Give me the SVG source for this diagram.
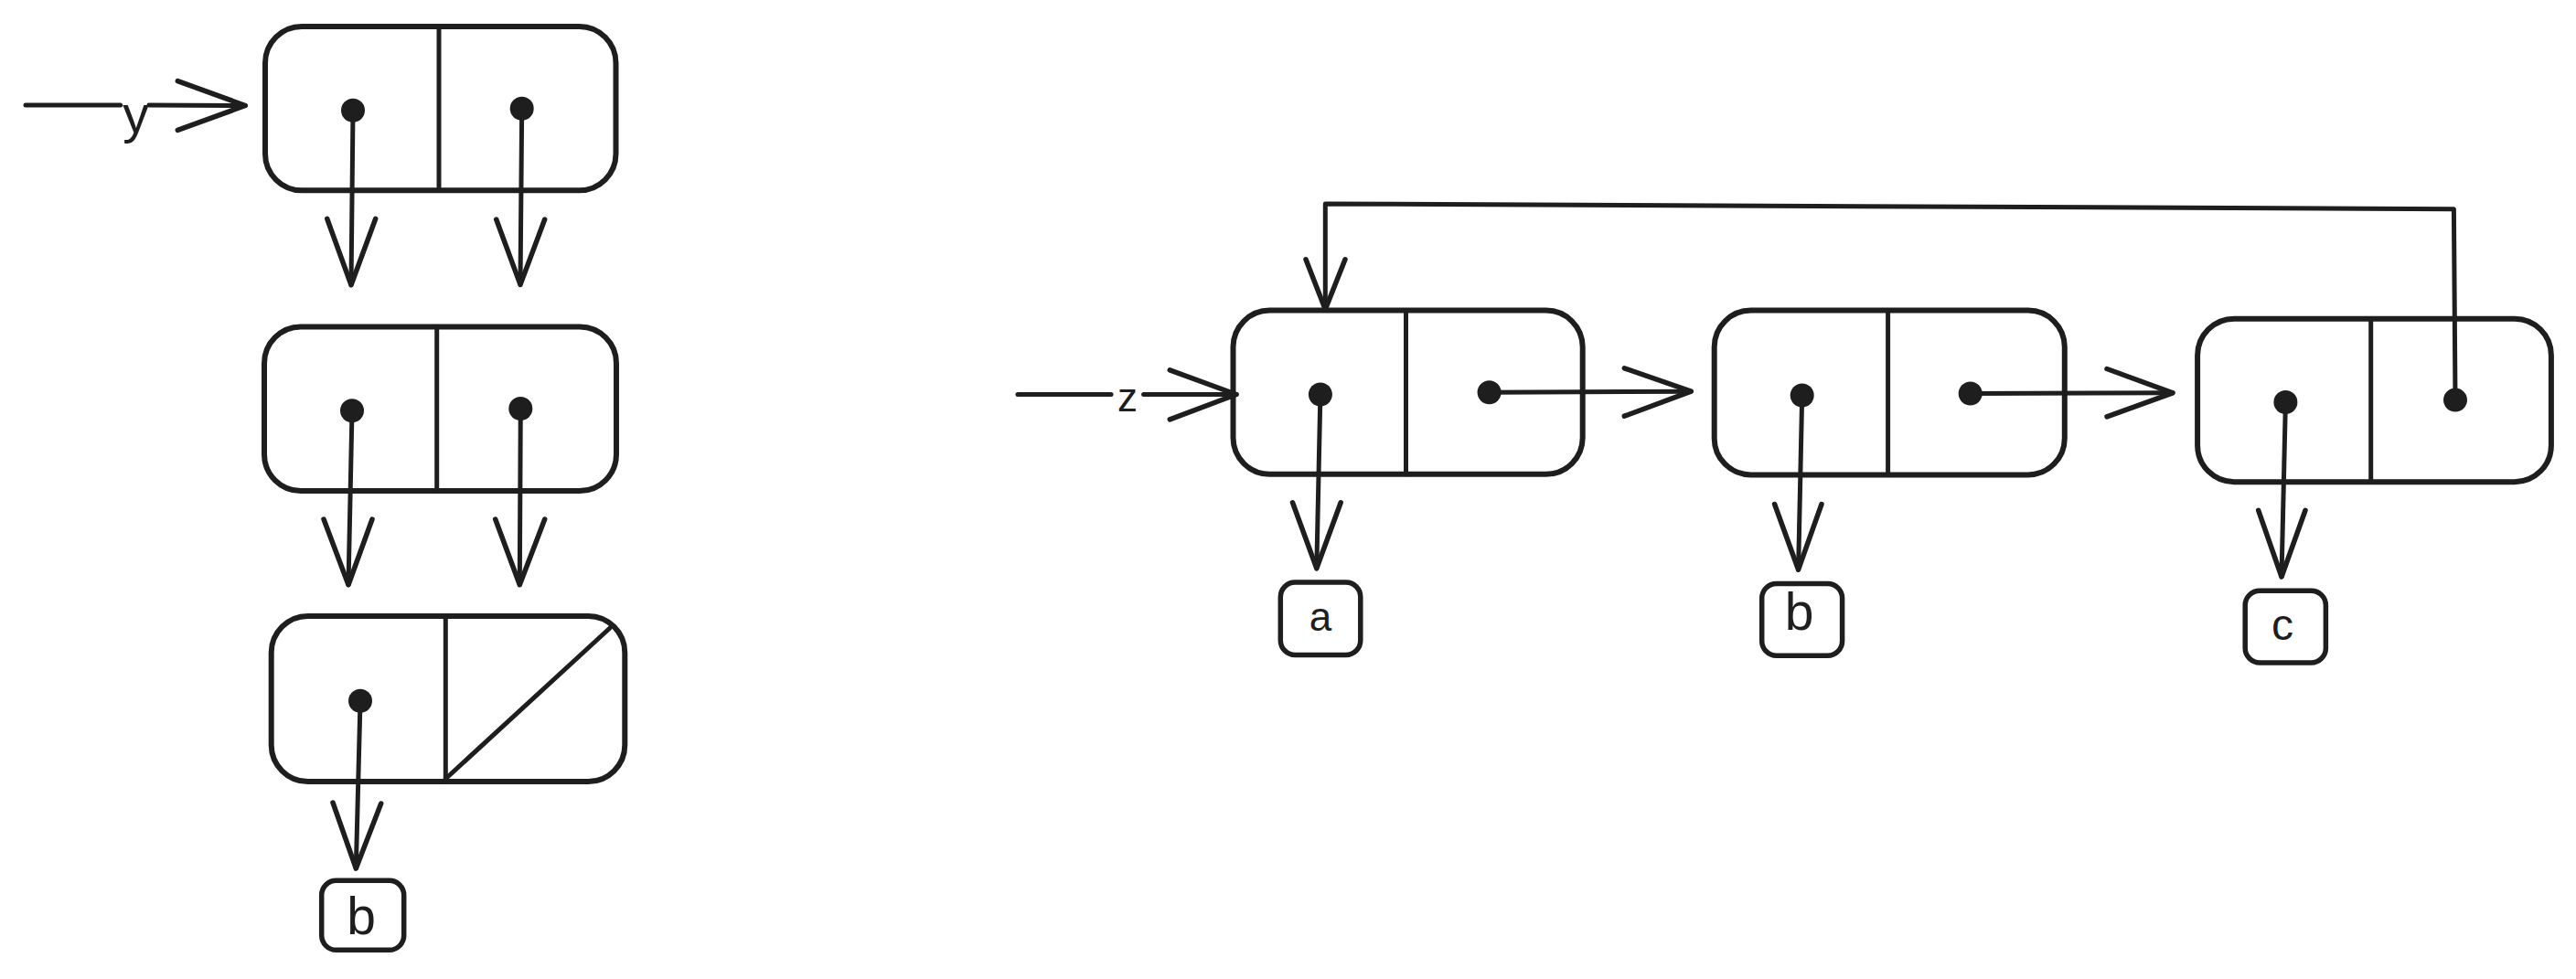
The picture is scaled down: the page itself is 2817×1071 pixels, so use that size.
<svg xmlns="http://www.w3.org/2000/svg" width="2817" height="1071" viewBox="0 0 2817 1071">
  <style>
    .cell { fill: #ffffff; stroke: #1e1e1e; stroke-width: 6; }
    .val { fill: #ffffff; stroke: #1e1e1e; stroke-width: 5.5; }
    .div { stroke: #1e1e1e; stroke-width: 5; stroke-linecap: round; fill: none; }
    .dot { fill: #1e1e1e; }
    .wire { stroke: #1e1e1e; stroke-width: 5; fill: none; stroke-linecap: round; stroke-linejoin: round; }
    .head { stroke: #1e1e1e; stroke-width: 5.5; fill: none; stroke-linecap: round; stroke-linejoin: round; }
    .lbl { font-family: "Liberation Sans", "DejaVu Sans", sans-serif; fill: #1e1e1e; text-anchor: middle; }
    .big { font-size: 57px; }
    .mid { font-size: 48px; }
    .small { font-size: 44px; }
  </style>

  <rect width="2817" height="1071" fill="#ffffff"/>

  <!-- list y: three cons cells stacked vertically -->
  <g id="y-cell-1">
    <rect class="cell" x="290" y="29" width="383.5" height="179.3" rx="40"/>
    <line class="div" x1="480" y1="29" x2="480" y2="208.3"/>
  </g>
  <g id="y-cell-2">
    <rect class="cell" x="289" y="357.5" width="385" height="179.5" rx="40"/>
    <line class="div" x1="477.7" y1="357.5" x2="477.7" y2="537"/>
  </g>
  <g id="y-cell-3">
    <rect class="cell" x="296.7" y="674" width="386.6" height="181" rx="40"/>
    <line class="div" x1="487.3" y1="674" x2="487.3" y2="855"/>
    <!-- nil cdr -->
    <line class="div" x1="487.3" y1="852" x2="667" y2="687"/>
  </g>
  <g id="y-val-b">
    <rect class="val" x="351.7" y="963.3" width="90" height="76" rx="16"/>
    <text class="lbl big" x="395" y="1022">b</text>
  </g>

  <!-- list z: three cells in a row, last cdr loops back to the first -->
  <g id="z-cell-1">
    <rect class="cell" x="1348.5" y="339.6" width="382.2" height="179.2" rx="40"/>
    <line class="div" x1="1537.5" y1="339.6" x2="1537.5" y2="518.8"/>
  </g>
  <g id="z-cell-2">
    <rect class="cell" x="1874.7" y="339.6" width="383.1" height="179.8" rx="40"/>
    <line class="div" x1="2064.6" y1="339.6" x2="2064.6" y2="519.4"/>
  </g>
  <g id="z-cell-3">
    <rect class="cell" x="2403.1" y="348.7" width="386.8" height="178.5" rx="40"/>
    <line class="div" x1="2592.7" y1="348.7" x2="2592.7" y2="527.2"/>
  </g>
  <g id="z-val-a">
    <rect class="val" x="1400.3" y="637" width="87.5" height="79.5" rx="16"/>
    <text class="lbl small" x="1444" y="689.5">a</text>
  </g>
  <g id="z-val-b">
    <rect class="val" x="1926.7" y="638.4" width="87.9" height="78.8" rx="16"/>
    <text class="lbl big" x="1967.5" y="689">b</text>
  </g>
  <g id="z-val-c">
    <rect class="val" x="2455.2" y="646.2" width="88.2" height="78.8" rx="16"/>
    <text class="lbl mid" x="2496" y="699.6">c</text>
  </g>

  <g id="connectors">
    <!-- variable y -->
    <line class="wire" x1="28" y1="115" x2="131.7" y2="115"/>
    <line class="wire" x1="163" y1="115" x2="268.3" y2="115.5"/>
    <path class="head" d="M194.3 88.7 L268.3 115.5 L194.3 142.3"/>
    <text class="lbl big" x="148.5" y="145">y</text>

    <!-- y cell 1 -->
    <line class="wire" x1="386" y1="121" x2="384" y2="311.7"/>
    <path class="head" d="M357.7 239.3 L384 311.7 L410.7 239.3"/>
    <line class="wire" x1="570.7" y1="119" x2="569" y2="311.4"/>
    <path class="head" d="M542.7 240 L569 311.4 L595.7 240"/>

    <!-- y cell 2 -->
    <line class="wire" x1="385" y1="449.3" x2="381" y2="639.7"/>
    <path class="head" d="M354 568 L381 639.7 L407 568"/>
    <line class="wire" x1="569.3" y1="447" x2="568.3" y2="639.7"/>
    <path class="head" d="M541.7 568 L568.3 639.7 L595.7 568"/>

    <!-- y cell 3 -->
    <line class="wire" x1="394" y1="767" x2="389.3" y2="950"/>
    <path class="head" d="M364 878 L389.3 950 L416.7 879"/>

    <!-- variable z -->
    <line class="wire" x1="1113" y1="431.5" x2="1215" y2="431.5"/>
    <line class="wire" x1="1250.6" y1="431.5" x2="1352" y2="431.5"/>
    <path class="head" d="M1279.3 404.8 L1352 431.5 L1279.3 458.9"/>
    <text class="lbl small" x="1233" y="449.5">z</text>

    <!-- z cell 1 -->
    <line class="wire" x1="1443.9" y1="431.5" x2="1439.8" y2="621.8"/>
    <path class="head" d="M1413.5 549.8 L1439.8 621.8 L1466.2 549.8"/>
    <line class="wire" x1="1628.6" y1="429.2" x2="1849.3" y2="428.2"/>
    <path class="head" d="M1776.3 402.8 L1849.3 428.2 L1776.3 455.2"/>

    <!-- z cell 2 -->
    <line class="wire" x1="1970.7" y1="432.5" x2="1966.6" y2="623.2"/>
    <path class="head" d="M1940.6 551.5 L1966.6 623.2 L1992 551.5"/>
    <line class="wire" x1="2154.7" y1="430.5" x2="2376" y2="429.8"/>
    <path class="head" d="M2304 403.5 L2376 429.8 L2304 455.9"/>

    <!-- z cell 3 -->
    <line class="wire" x1="2499.4" y1="440" x2="2495" y2="631"/>
    <path class="head" d="M2469.7 558.3 L2495 631 L2521 558.3"/>

    <!-- cycle: last cdr back to the first cell -->
    <path class="wire" d="M2685 437.6 L2683.4 228.7 L1449.3 223 L1449.3 338.6"/>
    <path class="head" d="M1428 283.8 L1449.3 338.6 L1471 283.8"/>

    <!-- pointer dots -->
    <circle class="dot" cx="386" cy="120.7" r="13"/>
    <circle class="dot" cx="570.7" cy="118.8" r="13"/>
    <circle class="dot" cx="385" cy="449.3" r="13"/>
    <circle class="dot" cx="569.3" cy="447" r="13"/>
    <circle class="dot" cx="394" cy="766.7" r="13"/>
    <circle class="dot" cx="1443.9" cy="431.5" r="13"/>
    <circle class="dot" cx="1628.6" cy="429.2" r="13"/>
    <circle class="dot" cx="1970.7" cy="432.5" r="13"/>
    <circle class="dot" cx="2154.7" cy="430.5" r="13"/>
    <circle class="dot" cx="2499.4" cy="440" r="13"/>
    <circle class="dot" cx="2685" cy="437.6" r="13"/>
  </g>
</svg>
